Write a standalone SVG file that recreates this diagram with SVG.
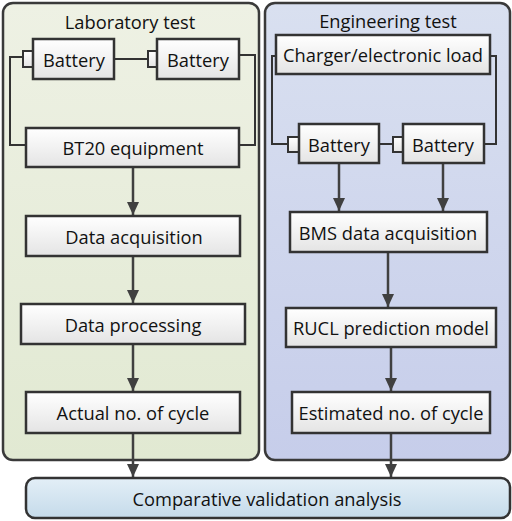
<svg xmlns="http://www.w3.org/2000/svg" width="512" height="521" viewBox="0 0 512 521">
<defs>
<linearGradient id="gGreen" x1="0" y1="0" x2="0" y2="1"><stop offset="0" stop-color="#eef1e4"/><stop offset="1" stop-color="#e1e9d2"/></linearGradient>
<linearGradient id="gBlue" x1="0" y1="0" x2="0" y2="1"><stop offset="0" stop-color="#d9e0f0"/><stop offset="1" stop-color="#c6cdea"/></linearGradient>
<linearGradient id="gBox" x1="0" y1="0" x2="0" y2="1"><stop offset="0" stop-color="#ffffff"/><stop offset="1" stop-color="#e4e4e4"/></linearGradient>
<linearGradient id="gComp" x1="0" y1="0" x2="0" y2="1"><stop offset="0" stop-color="#e3eff7"/><stop offset="1" stop-color="#c5dbea"/></linearGradient>
<marker id="arr" markerWidth="13" markerHeight="12" refX="13" refY="6" orient="auto" markerUnits="userSpaceOnUse" viewBox="0 0 13 12"><path d="M0,0 L13,6 L0,12 z" fill="#404040"/></marker>
</defs>
<style>
.panel{stroke:#3a3a3a;stroke-width:2.5}
.box{fill:url(#gBox);stroke:#333;stroke-width:2.5}
.term{fill:url(#gBox);stroke:#333;stroke-width:2}
.t{font-family:"Open Sans","Liberation Sans",sans-serif;font-size:18.3px;fill:#111;text-anchor:middle;dominant-baseline:central}
.w{fill:none;stroke:#333;stroke-width:2}
.a{fill:none;stroke:#404040;stroke-width:2.5;marker-end:url(#arr)}
</style>
<g id="panel-lab"><rect class="panel" x="3" y="3" width="256" height="457" rx="10" fill="url(#gGreen)"/><text class="t" x="130" y="21">Laboratory test</text></g>
<g id="panel-eng"><rect class="panel" x="265" y="3" width="245" height="457" rx="10" fill="url(#gBlue)"/><text class="t" x="388" y="20">Engineering test</text></g>
<g id="connectors">
<path class="w" d="M23,57 H10 V145 H26"/>
<path class="w" d="M114,59 H148"/>
<path class="w" d="M239,55 H255 V145 H240"/>
<path class="w" d="M276,56 H272 V144 H288"/>
<path class="w" d="M379,144 H393"/>
<path class="w" d="M490,56 H496 V144 H484"/>
<path class="a" d="M133,167 V215"/>
<path class="a" d="M133,256 V303"/>
<path class="a" d="M133,344 V391"/>
<path class="a" d="M133,433 V477"/>
<path class="a" d="M339,163 V211"/>
<path class="a" d="M443,163 V211"/>
<path class="a" d="M388,252 V307"/>
<path class="a" d="M391,347 V391"/>
<path class="a" d="M391,433 V477"/>
</g>
<g id="battery1"><rect class="term" x="23" y="51" width="10" height="16"/><rect class="box" x="33" y="39" width="81" height="40"/><text class="t" x="74" y="59">Battery</text></g>
<g id="battery2"><rect class="term" x="148" y="51" width="9" height="16"/><rect class="box" x="157" y="39" width="82" height="40"/><text class="t" x="198" y="59">Battery</text></g>
<g id="bt20"><rect class="box" x="26" y="128" width="213" height="39"/><text class="t" x="133" y="147">BT20 equipment</text></g>
<g id="lab-acq"><rect class="box" x="26" y="216" width="214" height="40"/><text class="t" x="134" y="236">Data acquisition</text></g>
<g id="lab-proc"><rect class="box" x="21" y="304" width="224" height="40"/><text class="t" x="133" y="324">Data processing</text></g>
<g id="lab-actual"><rect class="box" x="26" y="392" width="214" height="41"/><text class="t" x="133" y="412">Actual no. of cycle</text></g>
<g id="charger"><rect class="box" x="276" y="35" width="214" height="39"/><text class="t" x="383" y="54">Charger/electronic load</text></g>
<g id="battery3"><rect class="term" x="288" y="137" width="11" height="15"/><rect class="box" x="299" y="124" width="80" height="39"/><text class="t" x="339" y="144">Battery</text></g>
<g id="battery4"><rect class="term" x="393" y="137" width="10" height="15"/><rect class="box" x="403" y="124" width="81" height="39"/><text class="t" x="443" y="144">Battery</text></g>
<g id="bms"><rect class="box" x="290" y="212" width="197" height="40"/><text class="t" x="388" y="232">BMS data acquisition</text></g>
<g id="rucl"><rect class="box" x="286" y="308" width="210" height="39"/><text class="t" x="391" y="327">RUCL prediction model</text></g>
<g id="estimated"><rect class="box" x="292" y="392" width="198" height="41"/><text class="t" x="391" y="412">Estimated no. of cycle</text></g>
<g id="comparative"><rect x="26" y="478" width="484" height="40" rx="9" fill="url(#gComp)" stroke="#333" stroke-width="2.5"/><text class="t" x="267" y="498">Comparative validation analysis</text></g>
</svg>
